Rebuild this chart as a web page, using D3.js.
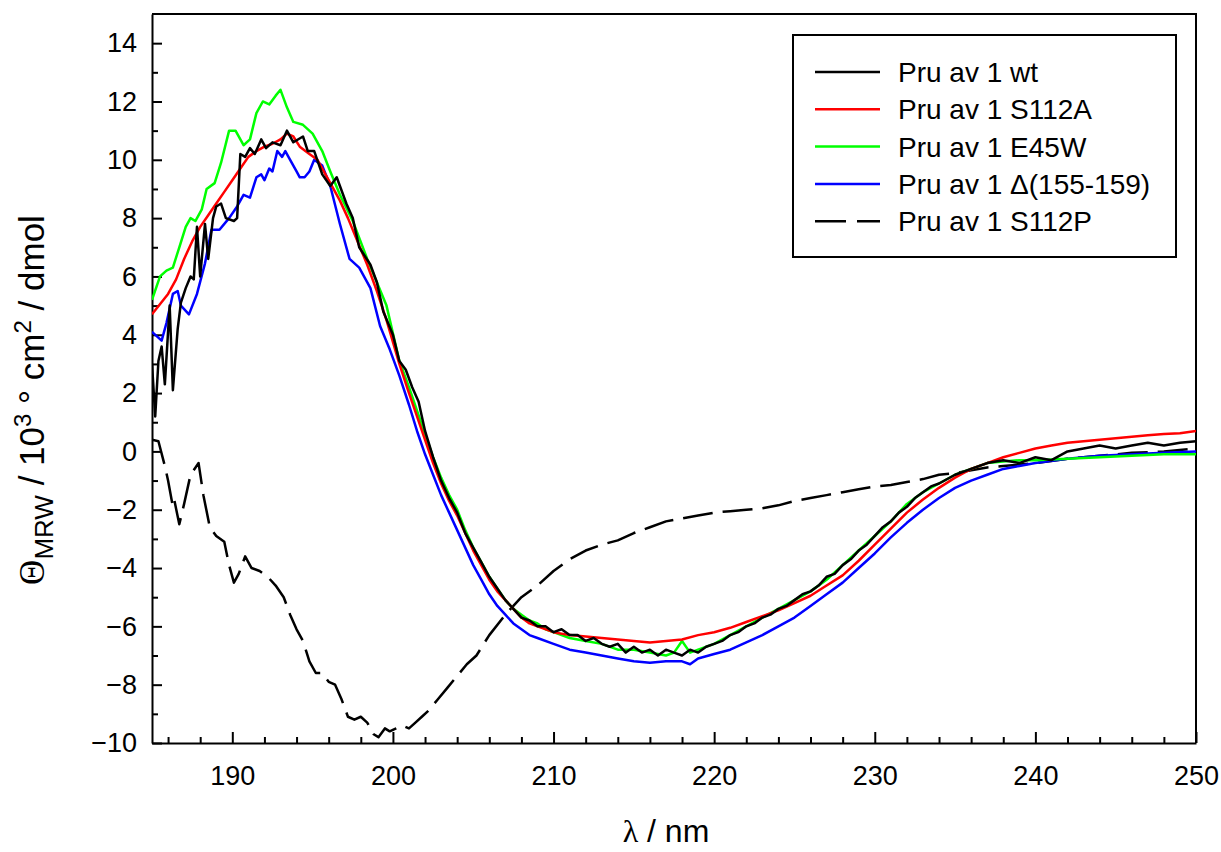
<!DOCTYPE html>
<html>
<head>
<meta charset="utf-8">
<script src="https://cdn.jsdelivr.net/npm/d3@7"></script>
<style>
  body { margin: 0; background: #fff; }
  text { font-family: "Liberation Sans", Arial, sans-serif; fill: #000; }
</style>
</head>
<body>
<div id="vis"></div>
<script>
// ---- data ----
var wtX = [185.0,185.2,185.4,185.6,185.8,186.1,186.3,186.6,186.8,187.1,187.4,187.6,187.8,188.0,188.3,188.5,188.8,189.0,189.3,189.6,190.1,190.3,190.5,190.8,191.1,191.4,191.8,192.1,192.5,193.0,193.4,193.8,194.4,194.7,195.1,195.6,196.1,196.5,196.7,197.1,197.5,197.9,198.6,199.0,199.4,200.0,200.4,200.8,201.2,201.6,202.0,202.5,203.0,203.5,204.0,204.5,205.0,205.5,206.0,206.5,207.0,207.5,208.0,208.5,209.0,209.5,210.0,210.5,211.0,211.5,212.0,212.5,213.0,213.5,214.0,214.5,215.0,215.5,216.0,216.5,217.0,217.5,218.0,218.5,219.0,219.5,220.0,220.5,221.0,221.5,222.0,222.5,223.0,223.5,224.0,224.5,225.0,225.5,226.0,226.5,227.0,227.5,228.0,228.5,229.0,229.5,230.0,230.5,231.0,231.5,232.0,232.5,233.0,233.5,234.0,235.0,236.0,237.0,238.0,239.0,240.0,241.0,242.0,243.0,244.0,245.0,246.0,247.0,248.0,249.0,250.0];
var wtY = [3.0,1.2,3.1,3.6,2.3,5.0,2.1,4.2,5.1,5.6,6.0,5.9,7.7,6.0,7.8,6.6,8.0,8.4,8.5,8.0,7.9,8.0,10.2,10.1,10.4,10.2,10.7,10.4,10.6,10.5,11.0,10.6,10.8,10.3,10.3,9.5,9.1,9.4,9.1,8.5,8.0,7.0,6.4,5.8,4.8,4.0,3.1,2.8,2.2,1.7,0.7,-0.2,-1.0,-1.6,-2.1,-2.8,-3.3,-3.8,-4.3,-4.7,-5.1,-5.4,-5.7,-5.8,-6.0,-6.0,-6.2,-6.1,-6.3,-6.3,-6.5,-6.4,-6.6,-6.7,-6.6,-6.9,-6.7,-6.9,-6.8,-7.0,-6.8,-6.9,-7.0,-6.8,-6.9,-6.7,-6.6,-6.5,-6.3,-6.2,-6.0,-5.9,-5.7,-5.6,-5.4,-5.3,-5.1,-4.9,-4.8,-4.6,-4.3,-4.2,-3.9,-3.7,-3.4,-3.2,-2.9,-2.6,-2.4,-2.1,-1.9,-1.6,-1.4,-1.2,-1.1,-0.8,-0.6,-0.4,-0.3,-0.4,-0.2,-0.3,0.0,0.1,0.2,0.1,0.2,0.3,0.2,0.3,0.35];

var s112aX = [185,186,186.5,187,187.5,188,188.5,189,189.5,190,190.5,191,191.5,192,192.5,193,193.4,193.8,194.2,194.8,195.3,195.8,196.3,196.7,197.2,197.8,198.4,199,199.6,200.4,201,201.5,202,202.5,203,203.5,204,204.5,205,205.5,206,206.5,207,207.5,208,208.5,209,210,211,212,213,214,215,216,217,218,219,220,221,222,223,224,225,226,227,228,229,230,231,232,233,234,235,236,237,238,239,240,241,242,243,244,245,246,247,248,249,250];
var s112aY = [4.7,5.4,5.9,6.6,7.2,7.7,8.1,8.5,8.9,9.3,9.7,10.1,10.3,10.45,10.55,10.7,10.9,10.8,10.45,10.2,10.0,9.5,9.0,8.6,8.0,7.2,6.4,5.5,4.5,3.0,2.0,1.2,0.4,-0.4,-1.1,-1.7,-2.2,-2.8,-3.4,-3.9,-4.4,-4.8,-5.1,-5.4,-5.7,-5.9,-6.0,-6.2,-6.3,-6.35,-6.4,-6.45,-6.5,-6.55,-6.5,-6.45,-6.3,-6.2,-6.05,-5.85,-5.65,-5.45,-5.2,-4.95,-4.6,-4.25,-3.75,-3.2,-2.65,-2.1,-1.65,-1.25,-0.9,-0.6,-0.4,-0.2,-0.05,0.1,0.2,0.3,0.35,0.4,0.45,0.5,0.55,0.6,0.62,0.7];

var e45wX = [185,185.5,185.9,186.3,186.7,187.1,187.4,187.7,188.1,188.4,188.9,189.3,189.8,190.2,190.7,191.1,191.5,191.9,192.3,192.7,193.0,193.4,193.8,194.4,195.0,195.6,196.1,196.7,197.5,198.4,199.6,200.4,201,201.5,202,202.5,203,203.5,204,204.5,205,205.5,206,206.5,207,207.5,208,208.5,209,209.5,210,211,212,213,214,215,216,217,217.5,218,218.5,219,220,221,222,223,224,225,226,227,228,229,230,231,232,233,234,235,236,237,238,239,240,242,244,246,248,250];
var e45wY = [5.2,6.0,6.2,6.3,7.0,7.7,8.0,7.9,8.3,9.0,9.2,9.9,11.0,11.0,10.5,10.7,11.6,12.0,11.9,12.2,12.4,11.8,11.3,11.2,10.9,10.3,9.6,8.8,7.9,6.6,5.0,3.1,2.2,1.4,0.6,-0.2,-0.9,-1.5,-2.0,-2.7,-3.3,-3.8,-4.3,-4.7,-5.1,-5.4,-5.6,-5.8,-5.9,-6.1,-6.2,-6.4,-6.5,-6.6,-6.8,-6.8,-6.9,-7.0,-6.9,-6.5,-6.9,-6.8,-6.6,-6.3,-6.0,-5.7,-5.4,-5.1,-4.8,-4.4,-3.9,-3.4,-2.9,-2.4,-1.8,-1.4,-1.1,-0.8,-0.6,-0.4,-0.35,-0.3,-0.3,-0.25,-0.2,-0.15,-0.1,-0.1];

var delX = [185,185.6,185.9,186.3,186.6,186.8,187.3,187.8,188.3,188.7,189.2,189.8,190.3,190.7,191.1,191.5,191.8,192.0,192.3,192.5,192.8,193.1,193.3,193.6,194.0,194.2,194.5,194.8,195.1,195.6,196.1,196.7,197.3,197.9,198.6,199.2,199.8,200.4,201,201.5,202,202.5,203,203.5,204,204.5,205,205.5,206,206.5,207,207.5,208,208.5,209,210,211,212,213,214,215,216,217,218,218.5,219,220,221,222,223,224,225,226,227,228,229,230,231,232,233,234,235,236,237,238,239,240,242,244,246,248,250];
var delY = [4.1,3.8,4.4,5.4,5.5,5.0,4.7,5.4,6.45,7.6,7.6,8.0,8.4,8.8,8.7,9.4,9.5,9.3,9.7,9.6,10.3,10.1,10.3,10.0,9.6,9.4,9.4,9.6,10.0,9.8,9.1,7.8,6.6,6.3,5.6,4.3,3.5,2.6,1.6,0.7,-0.1,-0.8,-1.5,-2.1,-2.7,-3.3,-3.9,-4.4,-4.9,-5.3,-5.6,-5.9,-6.1,-6.3,-6.4,-6.6,-6.8,-6.9,-7.0,-7.1,-7.2,-7.25,-7.2,-7.2,-7.3,-7.1,-6.95,-6.8,-6.55,-6.3,-6.0,-5.7,-5.3,-4.9,-4.5,-4.0,-3.5,-2.95,-2.45,-2.0,-1.6,-1.25,-1.0,-0.8,-0.6,-0.5,-0.4,-0.25,-0.15,-0.1,-0.05,0.0];

var s112pX = [185.0,185.4,185.8,186.0,186.3,186.4,186.7,187.0,187.4,187.9,188.2,188.6,189.0,189.5,189.8,190.1,190.4,190.8,191.2,191.7,192.2,192.7,193.2,193.6,194.0,194.4,194.8,195.2,195.6,196.0,196.4,196.8,197.2,197.6,198.0,198.4,198.8,199.1,199.5,199.8,200.2,200.6,201.0,201.4,201.8,202.2,202.8,203.4,204.0,204.6,205.2,206,207,208,209,210,211,212,213,214,215,216,217,218,219,220,221,222,223,224,225,226,227,228,229,230,231,232,233,234,235,236,237,238,239,240,242,244,246,248,250];
var s112pY = [0.4,0.35,-0.5,-1.0,-1.9,-1.7,-2.5,-1.8,-0.8,-0.4,-1.5,-2.6,-2.9,-3.1,-3.9,-4.5,-4.2,-3.6,-4.0,-4.1,-4.3,-4.6,-5.0,-5.6,-6.1,-6.5,-7.2,-7.6,-7.6,-7.9,-8.0,-8.5,-9.1,-9.2,-9.1,-9.3,-9.7,-9.8,-9.5,-9.6,-9.5,-9.4,-9.5,-9.3,-9.1,-8.9,-8.5,-8.1,-7.7,-7.3,-7.0,-6.3,-5.6,-5.0,-4.6,-4.1,-3.7,-3.4,-3.2,-3.05,-2.8,-2.6,-2.4,-2.3,-2.2,-2.1,-2.05,-2.0,-1.95,-1.85,-1.7,-1.6,-1.5,-1.4,-1.3,-1.2,-1.15,-1.05,-0.95,-0.8,-0.75,-0.65,-0.55,-0.5,-0.45,-0.4,-0.25,-0.15,-0.05,0.0,0.1];

var seriesNames = ['Pru av 1 wt', 'Pru av 1 S112A', 'Pru av 1 E45W', 'Pru av 1 \u0394(155-159)', 'Pru av 1 S112P'];
var seriesColors = ['#000000', '#ff0000', '#00ff00', '#0000ff', '#000000'];
var xTicks = [190, 200, 210, 220, 230, 240, 250];
var yTicks = [-10, -8, -6, -4, -2, 0, 2, 4, 6, 8, 10, 12, 14];

// ---- chart ----
var width = 1221;
var height = 852;
var margin = { top: 14, right: 25, bottom: 109, left: 152 };
var plotW = width - margin.left - margin.right;
var plotH = height - margin.top - margin.bottom;

var svg = d3.select('#vis').append('svg')
  .attr('width', width)
  .attr('height', height);

var g = svg.append('g')
  .attr('transform', 'translate(' + margin.left + ',' + margin.top + ')');

var x = d3.scaleLinear().domain([185, 250]).range([0, plotW]);
var y = d3.scaleLinear().domain([-10, 15]).range([plotH, 0]);

function zip(xs, ys) {
  return xs.map(function (d, i) { return [d, ys[i]]; });
}

var series = [
  { name: seriesNames[0], color: seriesColors[0], dash: null, values: zip(wtX, wtY) },
  { name: seriesNames[1], color: seriesColors[1], dash: null, values: zip(s112aX, s112aY) },
  { name: seriesNames[2], color: seriesColors[2], dash: null, values: zip(e45wX, e45wY) },
  { name: seriesNames[3], color: seriesColors[3], dash: null, values: zip(delX, delY) },
  { name: seriesNames[4], color: seriesColors[4], dash: '30,10', values: zip(s112pX, s112pY) }
];

// frame (top and right)
g.append('path')
  .attr('d', 'M0,0H' + plotW + 'V' + plotH)
  .attr('fill', 'none')
  .attr('stroke', '#000')
  .attr('stroke-width', 2);

// minor ticks
var minorX = d3.range(186, 250, 2).filter(function (d) { return d % 10 !== 0; });
var minorY = d3.range(-9, 15, 2);

g.append('g')
  .attr('transform', 'translate(0,' + plotH + ')')
  .call(d3.axisBottom(x).tickValues(minorX).tickSize(-6).tickFormat(''))
  .call(function (s) { s.select('.domain').remove(); })
  .selectAll('line').attr('stroke-width', 2);

g.append('g')
  .call(d3.axisLeft(y).tickValues(minorY).tickSize(-6).tickFormat(''))
  .call(function (s) { s.select('.domain').remove(); })
  .selectAll('line').attr('stroke-width', 2);

// major axes
var xAxis = g.append('g')
  .attr('transform', 'translate(0,' + plotH + ')')
  .call(d3.axisBottom(x).tickValues(xTicks).tickSizeInner(-11).tickSizeOuter(0).tickPadding(23));
xAxis.select('.domain').attr('stroke-width', 2);
xAxis.selectAll('line').attr('stroke-width', 2);
xAxis.selectAll('text')
  .style('font-size', '27px')
  .style('font-family', '"Liberation Sans", Arial, sans-serif');

var yAxis = g.append('g')
  .call(d3.axisLeft(y).tickValues(yTicks).tickSizeInner(-10).tickSizeOuter(0).tickPadding(15));
yAxis.select('.domain').attr('stroke-width', 2);
yAxis.selectAll('line').attr('stroke-width', 2);
yAxis.selectAll('text')
  .style('font-size', '27px')
  .style('font-family', '"Liberation Sans", Arial, sans-serif');

// curves
var line = d3.line()
  .x(function (d) { return x(d[0]); })
  .y(function (d) { return y(d[1]); });

g.append('defs').append('clipPath').attr('id', 'clip')
  .append('rect').attr('width', plotW).attr('height', plotH);

// dashed S112P first, then the others in reverse so wt is on top
var order = [4, 3, 2, 1, 0];
g.append('g').attr('clip-path', 'url(#clip)')
  .selectAll('.curve')
  .data(order.map(function (i) { return series[i]; }))
  .enter().append('path')
  .attr('class', 'curve')
  .attr('d', function (d) { return line(d.values); })
  .attr('fill', 'none')
  .attr('stroke', function (d) { return d.color; })
  .attr('stroke-width', 2.5)
  .attr('stroke-linejoin', 'round')
  .attr('stroke-dasharray', function (d) { return d.dash; });

// legend
var legend = svg.append('g').attr('transform', 'translate(793,35)');
legend.append('rect')
  .attr('width', 383)
  .attr('height', 222)
  .attr('fill', '#fff')
  .attr('stroke', '#000')
  .attr('stroke-width', 2);

var rows = legend.selectAll('.row')
  .data(series)
  .enter().append('g')
  .attr('class', 'row')
  .attr('transform', function (d, i) { return 'translate(0,' + (37 + i * 37.3) + ')'; });

rows.append('line')
  .attr('x1', 22).attr('x2', 87)
  .attr('stroke', function (d) { return d.color; })
  .attr('stroke-width', 2.5)
  .attr('stroke-dasharray', function (d) { return d.dash ? '31,11' : null; });

rows.append('text')
  .attr('x', 105)
  .attr('y', 10)
  .style('font-size', '28px')
  .text(function (d) { return d.name; });

// axis titles
svg.append('text')
  .attr('x', margin.left + plotW / 2 - 8)
  .attr('y', 842)
  .attr('text-anchor', 'middle')
  .style('font-size', '32px')
  .html('<tspan style="font-family:\'Liberation Serif\',serif">\u03bb</tspan> / nm');

var yTitle = svg.append('text')
  .attr('transform', 'translate(44,' + 400 + ') rotate(-90)')
  .attr('text-anchor', 'middle')
  .style('font-size', '35px');
yTitle.append('tspan').style('font-family', '"Liberation Serif", serif').text('\u0398');
yTitle.append('tspan').attr('dy', 9).style('font-size', '26px').text('MRW');
yTitle.append('tspan').attr('dy', -9).text(' / 10');
yTitle.append('tspan').attr('dy', -13).style('font-size', '24px').text('3');
yTitle.append('tspan').attr('dy', 13).text(' \u00b0 cm');
yTitle.append('tspan').attr('dy', -13).style('font-size', '24px').text('2');
yTitle.append('tspan').attr('dy', 13).text(' / dmol');
</script>
</body>
</html>
